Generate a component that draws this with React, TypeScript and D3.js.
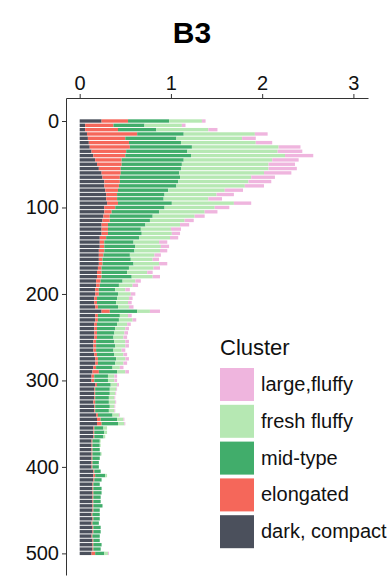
import React, { useEffect, useRef } from "react";
import * as d3 from "d3";

// depth bins (top of each 5-unit bin)
const depths = [
  0, 5, 10, 15, 20, 25, 30, 35, 40, 45, 50, 55, 60, 65, 70, 75, 80, 85, 90, 95,
  100, 105, 110, 115, 120, 125, 130, 135, 140, 145, 150, 155, 160, 165, 170, 175, 180, 185, 190, 195, 200,
  205, 210, 215, 220, 225, 230, 235, 240, 245, 250, 255, 260, 265, 270, 275, 280, 285, 290, 295, 300,
  305, 310, 315, 320, 325, 330, 335, 340, 345, 350, 355, 360, 365, 370, 375, 380, 385, 390, 395, 400,
  405, 410, 415, 420, 425, 430, 435, 440, 445, 450, 455, 460, 465, 470, 475, 480, 485, 490, 495, 500,
];

const darkCompact = [
  0.24, 0.06, 0.06, 0.08, 0.09, 0.1, 0.11, 0.13, 0.15, 0.17, 0.19, 0.21, 0.24, 0.25, 0.27, 0.27, 0.28, 0.29, 0.29, 0.3,
  0.27, 0.27, 0.26, 0.25, 0.24, 0.24, 0.24, 0.22, 0.22, 0.22, 0.21, 0.21, 0.21, 0.21, 0.2, 0.19, 0.19, 0.18, 0.18, 0.17, 0.17,
  0.16, 0.16, 0.17, 0.24, 0.17, 0.17, 0.16, 0.16, 0.16, 0.16, 0.15, 0.15, 0.15, 0.16, 0.17, 0.17, 0.15, 0.14, 0.13, 0.13,
  0.17, 0.16, 0.16, 0.16, 0.15, 0.16, 0.16, 0.18, 0.19, 0.19, 0.15, 0.15, 0.15, 0.13, 0.13, 0.13, 0.13, 0.13, 0.13, 0.13,
  0.15, 0.15, 0.15, 0.14, 0.14, 0.14, 0.14, 0.14, 0.14, 0.14, 0.13, 0.14, 0.13, 0.14, 0.14, 0.13, 0.14, 0.14, 0.14, 0.13,
];

const elongated = [
  0.29, 0.31, 0.36, 0.55, 0.41, 0.44, 0.44, 0.38, 0.35, 0.29, 0.27, 0.24, 0.21, 0.19, 0.17, 0.16, 0.14, 0.12, 0.12, 0.12,
  0.12, 0.08, 0.07, 0.08, 0.07, 0.07, 0.07, 0.07, 0.05, 0.05, 0.06, 0.05, 0.04, 0.04, 0.04, 0.05, 0.05, 0.05, 0.04, 0.04, 0.04,
  0.03, 0.03, 0.03, 0.09, 0.03, 0.03, 0.03, 0.03, 0.03, 0.03, 0.03, 0.03, 0.03, 0.03, 0.03, 0.03, 0.03, 0.07, 0.03, 0.03,
  0.02, 0.01, 0.01, 0.01, 0.02, 0.01, 0.01, 0.02, 0.04, 0.05, 0.01, 0.01, 0.01, 0.01, 0.01, 0.01, 0.01, 0.01, 0.01, 0.01,
  0.01, 0.02, 0.01, 0.01, 0.01, 0.01, 0.01, 0.01, 0.01, 0.01, 0.01, 0.01, 0.01, 0.01, 0.01, 0.01, 0.01, 0.01, 0.01, 0.04,
];

const midType = [
  0.45, 0.34, 0.42, 0.51, 0.56, 0.57, 0.68, 0.67, 0.72, 0.68, 0.66, 0.66, 0.64, 0.66, 0.64, 0.63, 0.55, 0.52, 0.51, 0.59,
  0.54, 0.52, 0.47, 0.44, 0.41, 0.36, 0.37, 0.36, 0.32, 0.34, 0.33, 0.29, 0.31, 0.34, 0.3, 0.28, 0.33, 0.24, 0.21, 0.18, 0.21,
  0.22, 0.21, 0.22, 0.3, 0.24, 0.23, 0.22, 0.2, 0.19, 0.18, 0.2, 0.21, 0.19, 0.19, 0.2, 0.19, 0.18, 0.2, 0.15, 0.15,
  0.15, 0.16, 0.16, 0.15, 0.15, 0.16, 0.15, 0.16, 0.18, 0.18, 0.1, 0.11, 0.1, 0.08, 0.08, 0.08, 0.09, 0.08, 0.07, 0.07,
  0.07, 0.11, 0.08, 0.07, 0.09, 0.09, 0.08, 0.08, 0.1, 0.07, 0.08, 0.07, 0.07, 0.08, 0.08, 0.08, 0.07, 0.09, 0.08, 0.1,
];

const freshFluffy = [
  0.36, 0.41, 0.57, 0.78, 0.72, 0.82, 0.95, 0.99, 1.03, 0.97, 0.95, 0.96, 0.93, 0.78, 0.77, 0.75, 0.62, 0.57, 0.49, 0.68,
  0.55, 0.5, 0.46, 0.38, 0.38, 0.33, 0.33, 0.34, 0.28, 0.28, 0.28, 0.27, 0.24, 0.28, 0.27, 0.22, 0.23, 0.14, 0.15, 0.11, 0.14,
  0.13, 0.13, 0.12, 0.14, 0.09, 0.15, 0.11, 0.11, 0.11, 0.11, 0.12, 0.11, 0.09, 0.1, 0.1, 0.09, 0.08, 0.09, 0.07, 0.07,
  0.07, 0.07, 0.06, 0.06, 0.07, 0.05, 0.06, 0.07, 0.07, 0.07, 0.04, 0.03, 0.02, 0.01, 0.01, 0, 0.01, 0, 0, 0,
  0, 0.02, 0, 0, 0, 0, 0, 0, 0, 0, 0, 0, 0, 0, 0, 0, 0, 0, 0, 0.04,
];

const largeFluffy = [
  0.04, 0.04, 0.1, 0.14, 0.15, 0.18, 0.24, 0.27, 0.31, 0.29, 0.29, 0.31, 0.3, 0.26, 0.25, 0.21, 0.2, 0.19, 0.15, 0.19,
  0.16, 0.14, 0.11, 0.1, 0.1, 0.11, 0.09, 0.09, 0.09, 0.09, 0.08, 0.07, 0.07, 0.09, 0.07, 0.06, 0.08, 0.06, 0.06, 0.05, 0.05,
  0.04, 0.04, 0.05, 0.11, 0.04, 0.04, 0.04, 0.04, 0.04, 0.04, 0.04, 0.04, 0.04, 0.04, 0.04, 0.04, 0.04, 0.04, 0.03, 0.03,
  0.02, 0.01, 0.01, 0.01, 0.01, 0.01, 0.01, 0.01, 0.01, 0.01, 0, 0, 0, 0, 0, 0, 0, 0, 0, 0,
  0, 0, 0, 0, 0, 0, 0, 0, 0, 0, 0, 0, 0, 0, 0, 0, 0, 0, 0, 0.01,
];

// stacking order, left to right
const clusters = ["dark, compact", "elongated", "mid-type", "fresh fluffy", "large,fluffy"];
const clusterColors = ["#4b505c", "#f5675a", "#41ad6b", "#b6e8b3", "#efb5de"];
const xTicks = [0, 1, 2, 3];
const yTicks = [0, 100, 200, 300, 400, 500];

const FONT = "'Liberation Sans', Arial, sans-serif";

export default function App() {
  const ref = useRef<SVGSVGElement>(null);

  useEffect(() => {
    const svg = d3.select(ref.current);
    svg.selectAll("*").remove();

    const width = 391;
    const height = 578;

    const seriesArrays = [darkCompact, elongated, midType, freshFluffy, largeFluffy];
    const rows = depths.map((depth, i) => {
      const r: any = { depth };
      clusters.forEach((c, k) => (r[c] = seriesArrays[k][i]));
      return r;
    });
    const stacked = d3.stack().keys(clusters)(rows);

    const x = d3.scaleLinear().domain([-0.15, 3.16]).range([66, 368]);
    const y = d3.scaleLinear().domain([-26.6, 525]).range([98, 575]);
    const color = d3.scaleOrdinal<string>().domain(clusters).range(clusterColors);

    svg.attr("width", width).attr("height", height);

    const barH = (y(5) - y(0)) * 0.78;

    svg
      .append("g")
      .selectAll("g")
      .data(stacked)
      .join("g")
      .attr("fill", (d) => color(d.key))
      .selectAll("rect")
      .data((d) => d)
      .join("rect")
      .attr("x", (d) => x(d[0]))
      .attr("width", (d) => Math.max(0, x(d[1]) - x(d[0])))
      .attr("y", (d: any) => y(d.data.depth) - barH / 2)
      .attr("height", barH);

    const xAxis = svg
      .append("g")
      .attr("transform", `translate(0,${y.range()[0]})`)
      .call(
        d3
          .axisTop(x)
          .tickValues(xTicks)
          .tickFormat(d3.format("d"))
          .tickSize(4)
          .tickSizeOuter(0)
          .tickPadding(4)
      );
    xAxis.selectAll("text").attr("font-size", 20).attr("font-family", FONT).attr("fill", "#111");
    xAxis.selectAll("path,line").attr("stroke", "#333");

    const yAxis = svg
      .append("g")
      .attr("transform", `translate(${x.range()[0]},0)`)
      .call(d3.axisLeft(y).tickValues(yTicks).tickSize(4).tickSizeOuter(0).tickPadding(3));
    yAxis.selectAll("text").attr("font-size", 20).attr("font-family", FONT).attr("fill", "#111");
    yAxis.selectAll("path,line").attr("stroke", "#333");

    svg
      .append("text")
      .attr("x", 192)
      .attr("y", 43)
      .attr("text-anchor", "middle")
      .attr("font-family", FONT)
      .attr("font-weight", "bold")
      .attr("font-size", 30)
      .text("B3");

    const legend = svg.append("g").attr("transform", "translate(220,0)");
    legend
      .append("text")
      .attr("x", 0)
      .attr("y", 355)
      .attr("font-family", FONT)
      .attr("font-size", 22)
      .attr("fill", "#111")
      .text("Cluster");

    const legendOrder = [...clusters].reverse();
    const item = legend
      .selectAll("g.item")
      .data(legendOrder)
      .join("g")
      .attr("class", "item")
      .attr("transform", (_, i) => `translate(0,${368 + i * 36.8})`);
    item
      .append("rect")
      .attr("width", 34)
      .attr("height", 33)
      .attr("fill", (d) => color(d));
    item
      .append("text")
      .attr("x", 41)
      .attr("y", 23)
      .attr("font-family", FONT)
      .attr("font-size", 20)
      .attr("fill", "#111")
      .text((d) => d);
  }, []);

  return <svg ref={ref} style={{ position: "absolute", left: 0, top: 0 }}></svg>;
}
